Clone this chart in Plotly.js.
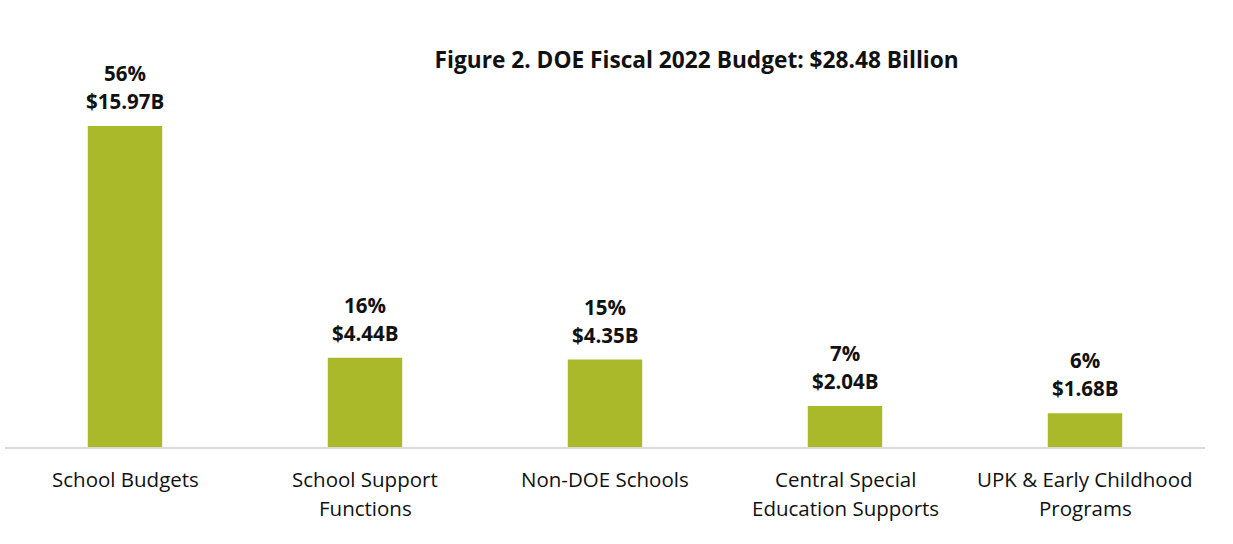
<!DOCTYPE html>
<html>
<head>
<meta charset="utf-8">
<script src="https://cdn.plot.ly/plotly-3.0.1.min.js"></script>
<style>html,body{margin:0;padding:0;background:#fff;}#chart{width:1233px;height:544px;}</style>
</head>
<body>
<div id="chart"></div>
<script>
const categories = ["School Budgets", "School Support\nFunctions", "Non-DOE Schools", "Central Special\nEducation Supports", "UPK & Early Childhood\nPrograms"];
const values = [15.97, 4.44, 4.35, 2.04, 1.68];
const percents = ["56%", "16%", "15%", "7%", "6%"];
const amountLabels = ["$15.97B", "$4.44B", "$4.35B", "$2.04B", "$1.68B"];
const titleText = "Figure 2. DOE Fiscal 2022 Budget: $28.48 Billion";

const FONT = "'Open Sans', sans-serif";
const xs = categories.map((c, i) => i);

const annotations = [];
values.forEach((v, i) => {
  annotations.push({x: i, y: v, xref: 'x', yref: 'y', text: '<b>' + amountLabels[i] + '</b>', showarrow: false,
    yanchor: 'middle', yshift: 25, font: {family: FONT, size: 20.5, color: '#111'}});
  annotations.push({x: i, y: v, xref: 'x', yref: 'y', text: '<b>' + percents[i] + '</b>', showarrow: false,
    yanchor: 'middle', yshift: 53, font: {family: FONT, size: 20.5, color: '#111'}});
});
categories.forEach((c, i) => {
  c.split('\n').forEach((line, j) => {
    annotations.push({x: i, y: 0, xref: 'x', yref: 'y', text: line, showarrow: false,
      yanchor: 'middle', yshift: -32 - 29 * j, font: {family: FONT, size: 20.5, color: '#111'}});
  });
});

const trace = {
  type: 'bar', x: xs, y: values,
  marker: {color: '#A9B92A'},
  hoverinfo: 'none'
};

const layout = {
  width: 1233, height: 544,
  margin: {l: 5, r: 28, t: 20, b: 97},
  paper_bgcolor: '#fff', plot_bgcolor: '#fff',
  bargap: 0.69,
  showlegend: false,
  title: {text: '<b>' + titleText + '</b>', x: 0.565, xanchor: 'center', y: 0.89, yanchor: 'middle',
    font: {family: FONT, size: 22.7, color: '#111'}},
  xaxis: {range: [-0.5, 4.5], showticklabels: false, showgrid: false, zeroline: false,
    showline: true, linecolor: '#d9d9d9', linewidth: 2, ticks: '', fixedrange: true},
  yaxis: {range: [0, 21.24], visible: false, showgrid: false, zeroline: false, fixedrange: true},
  annotations: annotations
};

Plotly.newPlot('chart', [trace], layout, {displayModeBar: false, staticPlot: true});
</script>
</body>
</html>
